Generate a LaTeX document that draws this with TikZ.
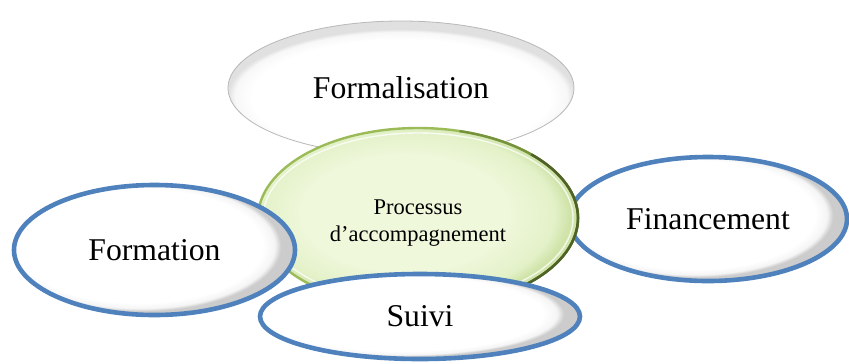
\documentclass[tikz,border=0pt]{standalone}
\usepackage{fontspec}
\setmainfont{Liberation Serif}
\usetikzlibrary{shapes.geometric,calc}
\definecolor{blueedge}{HTML}{4F81BD}
\definecolor{grnA}{HTML}{EFF8DB}
\definecolor{grnB}{HTML}{E3F1C8}
\definecolor{grnC}{HTML}{D0E4AA}
\definecolor{grnLight}{HTML}{9BBB59}
\definecolor{grnMid}{HTML}{76923C}
\definecolor{grnDark}{HTML}{4F6228}
\definecolor{rimgray}{HTML}{B8B8B8}
\definecolor{shA}{gray}{0.96}
\definecolor{shB}{gray}{0.80}
\definecolor{shC}{gray}{0.97}
\definecolor{shD}{gray}{0.88}
\pgfdeclareradialshading{wshade}{\pgfpoint{-5bp}{3bp}}{color(0bp)=(white); color(22bp)=(white); color(24bp)=(shA); color(25bp)=(shB); color(50bp)=(shB)}
\pgfdeclareradialshading{topshade}{\pgfpoint{0bp}{-6bp}}{color(0bp)=(white); color(21.5bp)=(white); color(24bp)=(shC); color(25bp)=(shD); color(50bp)=(shD)}
\pgfdeclareradialshading{grnshade}{\pgfpoint{-3bp}{2bp}}{color(0bp)=(grnA); color(16bp)=(grnA); color(23bp)=(grnB); color(25bp)=(grnC); color(50bp)=(grnC)}
\begin{document}
\begin{tikzpicture}[x=1bp,y=-1bp,
  blueell/.style={ellipse, draw=blueedge, line width=4.6bp, shading=wshade, inner sep=0pt,
    font=\fontsize{31.7bp}{36bp}\selectfont},
  grayell/.style={ellipse, draw=rimgray, line width=0.8bp, shading=topshade, inner sep=0pt,
    font=\fontsize{31.7bp}{36bp}\selectfont},
  greenell/.style={ellipse, draw=grnLight, line width=2.4bp, shading=grnshade, inner sep=0pt},
  smalltext/.style={align=center, inner sep=0pt, font=\fontsize{22.5bp}{27bp}\selectfont}]
\useasboundingbox (0,0) rectangle (849,363);
% top ellipse
\node[grayell, minimum width=346bp, minimum height=134bp] (form) at (401,88) {Formalisation};
% right ellipse (behind centre)
\node[blueell, minimum width=278bp, minimum height=124bp] (fin) at (708,219) {Financement};
% centre ellipse
\node[greenell, minimum width=320bp, minimum height=180bp] (C) at (418,218) {};
\draw[white, opacity=0.75, line width=1.4bp] (C.center) ellipse[x radius=155bp, y radius=85bp];
\draw[grnMid, line width=2.4bp] ($(C.center)+(75:160bp and 90bp)$)
  arc[start angle=75, end angle=-120, x radius=160bp, y radius=90bp];
\draw[grnDark, line width=2.6bp] ($(C.center)+(45:160bp and 90bp)$)
  arc[start angle=45, end angle=-95, x radius=160bp, y radius=90bp];
\node[smalltext] (Ctext) at (418,223) {Processus\\d’accompagnement};
% left ellipse
\node[blueell, minimum width=281bp, minimum height=130bp] (frm) at (154.5,250) {Formation};
% bottom ellipse
\node[blueell, minimum width=320bp, minimum height=85bp] (suivi) at (420,316.5) {Suivi};
\end{tikzpicture}
\end{document}
